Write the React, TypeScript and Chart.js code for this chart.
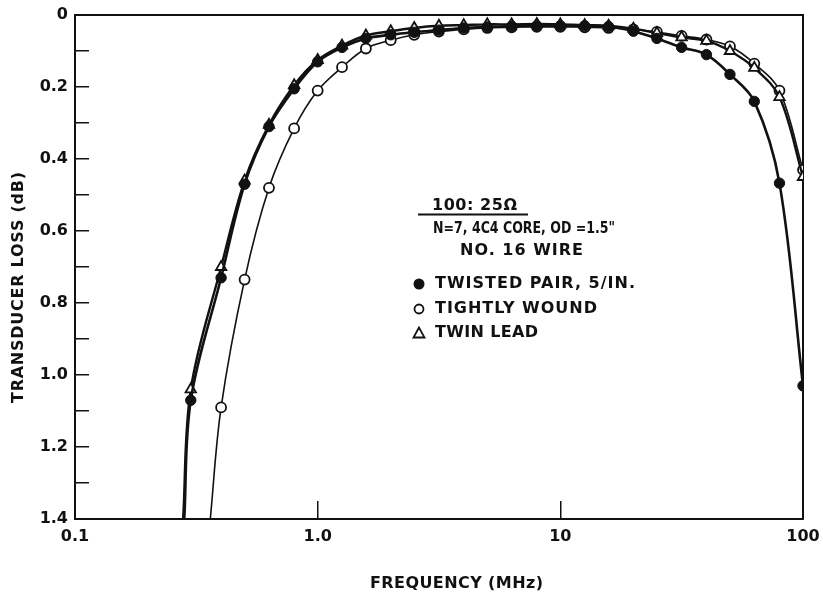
import React, { useEffect, useRef } from "react";
import { Chart, registerables } from "chart.js";

Chart.register(...registerables);

// ---- data ----
const FREQ_MHZ = [0.3, 0.4, 0.5, 0.63, 0.8, 1.0, 1.26, 1.58, 2.0, 2.5, 3.16, 4.0, 5.0, 6.3, 8.0, 10, 12.6, 15.8, 20, 25, 31.6, 40, 50, 63, 80, 100];
const TWISTED_PAIR_DB = [1.07, 0.73, 0.47, 0.31, 0.205, 0.13, 0.09, 0.065, 0.055, 0.048, 0.042, 0.036, 0.033, 0.031, 0.03, 0.03, 0.03, 0.032, 0.045, 0.065, 0.09, 0.11, 0.165, 0.24, 0.467, 1.03];
const TIGHTLY_WOUND_DB = [null, 1.09, 0.735, 0.48, 0.315, 0.21, 0.145, 0.093, 0.07, 0.055, 0.046, 0.04, 0.036, 0.034, 0.033, 0.033, 0.034, 0.036, 0.04, 0.047, 0.058, 0.068, 0.087, 0.135, 0.21, 0.43];
const TWIN_LEAD_DB = [1.04, 0.7, 0.46, 0.305, 0.195, 0.125, 0.085, 0.057, 0.045, 0.036, 0.03, 0.028, 0.026, 0.026, 0.025, 0.026, 0.028, 0.03, 0.038, 0.05, 0.062, 0.072, 0.1, 0.147, 0.228, 0.45];
// where each curve runs out of the bottom of the plot (frequency, loss)
const TWISTED_PAIR_EXIT = [0.282, 1.4];
const TIGHTLY_WOUND_EXIT = [0.361, 1.4];
const TWIN_LEAD_EXIT = [0.279, 1.4];

const X_TICKS = [0.1, 1, 10, 100];
const X_TICK_LABELS = ["0.1", "1.0", "10", "100"];
const Y_MIN = 0;
const Y_MAX = 1.4;
const Y_STEP = 0.1;

const SERIES_NAMES = ["TWISTED PAIR, 5/IN.", "TIGHTLY WOUND", "TWIN LEAD"];
const NOTE_TITLE = "100: 25\u03A9";
const NOTE_LINES = ["N=7, 4C4 CORE, OD =1.5\"", "NO. 16 WIRE"];
const X_TITLE = "FREQUENCY (MHz)";
const Y_TITLE = "TRANSDUCER LOSS (dB)";

// ---- style ----
const INK = "#111111";
const FONT = '"DejaVu Sans", "Liberation Sans", Arial, sans-serif';
const TEXT_SIZE = 16;
const TEXT_WEIGHT = "bold";

type Pt = { x: number; y: number; tail?: boolean };

function buildPoints(ys: (number | null)[], exit: number[]): Pt[] {
  const pts: Pt[] = [{ x: exit[0], y: exit[1], tail: true }];
  FREQ_MHZ.forEach((f, i) => {
    const v = ys[i];
    if (v !== null && v !== undefined) pts.push({ x: f, y: v });
  });
  return pts;
}

// draw text stretched (by letter spacing) or squeezed to a given width
function fitText(ctx: CanvasRenderingContext2D, text: string, x: number, y: number, width: number) {
  ctx.font = `${TEXT_WEIGHT} ${TEXT_SIZE}px ${FONT}`;
  (ctx as any).letterSpacing = "0px";
  const w = ctx.measureText(text).width;
  const n = Math.max(1, text.length - 1);
  const sp = (width - w) / n;
  if (sp >= 0) {
    (ctx as any).letterSpacing = `${sp}px`;
    ctx.fillText(text, x, y);
  } else {
    ctx.fillText(text, x, y, width);
  }
  (ctx as any).letterSpacing = "0px";
}

const decorPlugin = {
  id: "decor",
  beforeDraw(chart: any) {
    const { ctx, width, height } = chart;
    ctx.save();
    ctx.fillStyle = "#ffffff";
    ctx.fillRect(0, 0, width, height);
    ctx.restore();
  },
  beforeDatasetsDraw(chart: any) {
    const { ctx, chartArea } = chart;
    ctx.save();
    ctx.strokeStyle = INK;
    ctx.lineWidth = 2;
    ctx.beginPath();
    ctx.moveTo(chartArea.left, chartArea.top);
    ctx.lineTo(chartArea.right, chartArea.top);
    ctx.lineTo(chartArea.right, chartArea.bottom);
    ctx.stroke();
    ctx.restore();
  },
  afterDraw(chart: any) {
    const { ctx } = chart;
    ctx.save();
    ctx.fillStyle = INK;
    ctx.strokeStyle = INK;
    ctx.textBaseline = "middle";
    ctx.textAlign = "left";

    // annotation block
    fitText(ctx, NOTE_TITLE, 432, 206, 85);
    ctx.lineWidth = 1.8;
    ctx.beginPath();
    ctx.moveTo(418, 214.5);
    ctx.lineTo(528, 214.5);
    ctx.stroke();

    fitText(ctx, NOTE_LINES[0], 433, 229, 182);
    fitText(ctx, NOTE_LINES[1], 460, 251, 123);

    const rows = [284, 309, 333];
    const widths = [200, 162, 103];
    const mx = 419;
    // filled circle
    ctx.beginPath();
    ctx.arc(mx, rows[0], 5.5, 0, Math.PI * 2);
    ctx.fill();
    // open circle
    ctx.lineWidth = 1.8;
    ctx.beginPath();
    ctx.arc(mx, rows[1], 4.5, 0, Math.PI * 2);
    ctx.stroke();
    // triangle
    ctx.beginPath();
    ctx.moveTo(mx, rows[2] - 5.5);
    ctx.lineTo(mx - 5.5, rows[2] + 4.5);
    ctx.lineTo(mx + 5.5, rows[2] + 4.5);
    ctx.closePath();
    ctx.stroke();

    SERIES_NAMES.forEach((name, i) => fitText(ctx, name, 435, rows[i], widths[i]));

    // axis titles
    fitText(ctx, X_TITLE, 370, 584, 173);
    ctx.save();
    ctx.translate(19, 403);
    ctx.rotate(-Math.PI / 2);
    fitText(ctx, Y_TITLE, 0, 0, 231);
    ctx.restore();

    ctx.restore();
  },
};

function zeroPad(s: any) {
  s.paddingTop = 0;
  s.paddingBottom = 0;
  s.paddingLeft = 0;
  s.paddingRight = 0;
}

export default function App() {
  const ref = useRef<HTMLCanvasElement | null>(null);

  useEffect(() => {
    if (!ref.current) return;
    const radius = (r: number) => (c: any) => (c.raw && c.raw.tail ? 0 : r);
    const common = { tension: 0.35, fill: false, borderColor: INK, pointBorderColor: INK };
    const tickFont = { family: FONT, size: TEXT_SIZE, weight: TEXT_WEIGHT };

    const chart = new Chart(ref.current, {
      type: "line",
      data: {
        datasets: [
          {
            ...common,
            label: SERIES_NAMES[0],
            data: buildPoints(TWISTED_PAIR_DB, TWISTED_PAIR_EXIT),
            borderWidth: 2.6,
            pointStyle: "circle",
            pointRadius: radius(5.2),
            pointBackgroundColor: INK,
            pointBorderWidth: 1,
          },
          {
            ...common,
            label: SERIES_NAMES[2],
            data: buildPoints(TWIN_LEAD_DB, TWIN_LEAD_EXIT),
            borderWidth: 2.4,
            pointStyle: "triangle",
            pointRadius: radius(6),
            pointBackgroundColor: "#ffffff",
            pointBorderWidth: 1.8,
          },
          {
            ...common,
            label: SERIES_NAMES[1],
            data: buildPoints(TIGHTLY_WOUND_DB, TIGHTLY_WOUND_EXIT),
            borderWidth: 1.6,
            pointStyle: "circle",
            pointRadius: radius(5),
            pointBackgroundColor: "#ffffff",
            pointBorderWidth: 1.8,
          },
        ],
      },
      options: {
        animation: false,
        responsive: false,
        events: [],
        layout: { padding: { left: 0, right: 20, top: 15, bottom: 0 }, autoPadding: false },
        plugins: { legend: { display: false }, tooltip: { enabled: false }, title: { display: false } },
        scales: {
          x: {
            type: "logarithmic",
            min: X_TICKS[0],
            max: X_TICKS[X_TICKS.length - 1],
            position: "bottom",
            afterBuildTicks: (s: any) => {
              s.ticks = X_TICKS.map((v) => ({ value: v }));
            },
            afterFit: (s: any) => {
              s.height = 79;
              zeroPad(s);
            },
            ticks: {
              autoSkip: false,
              maxRotation: 0,
              padding: 26,
              color: INK,
              font: tickFont,
              callback: (v: any) => {
                const i = X_TICKS.findIndex((t) => Math.abs(t - Number(v)) < 1e-9);
                return i >= 0 ? X_TICK_LABELS[i] : "";
              },
            },
            grid: { drawOnChartArea: false, drawTicks: true, tickLength: -18, color: INK, lineWidth: 1.5 },
            border: { display: true, color: INK, width: 2 },
          },
          y: {
            type: "linear",
            reverse: true,
            min: Y_MIN,
            max: Y_MAX,
            afterFit: (s: any) => {
              s.width = 75;
              zeroPad(s);
            },
            ticks: {
              stepSize: Y_STEP,
              padding: 21,
              color: INK,
              font: tickFont,
              callback: (v: any) => {
                const n = Math.round(Number(v) * 10);
                if (n % 2 !== 0) return "";
                return n === 0 ? "0" : (n / 10).toFixed(1);
              },
            },
            grid: { drawOnChartArea: false, drawTicks: true, tickLength: -14, color: INK, lineWidth: 1.5 },
            border: { display: true, color: INK, width: 2 },
          },
        },
      },
      plugins: [decorPlugin],
    } as any);

    return () => chart.destroy();
  }, []);

  return (
    <div style={{ position: "fixed", left: 0, top: 0, width: 823, height: 598, background: "#fff" }}>
      <canvas ref={ref} width={823} height={598} style={{ display: "block", width: 823, height: 598 }} />
    </div>
  );
}
